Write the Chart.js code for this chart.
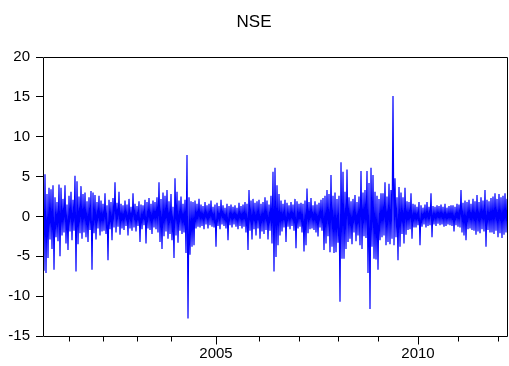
<!DOCTYPE html>
<html><head><meta charset="utf-8">
<script src="https://cdn.jsdelivr.net/npm/chart.js@4.4.0/dist/chart.umd.min.js"></script>
<style>html,body{margin:0;padding:0;background:#fff;overflow:hidden}canvas{display:block}</style>
</head><body>
<canvas id="c" width="509" height="366"></canvas>
<script>
const chartTitle = "NSE";
const nseReturns = [
 6.4,-6.8,5.3,-7.1,2.8,-5.2,3.6,-2.9,3.4,-4.1,
 3.9,-6.7,2.4,-2.6,1.8,-3.1,4.0,-5.0,3.6,-2.4,
 2.2,-2.0,3.9,-3.4,1.5,-4.2,2.6,-1.9,3.1,-3.0,
 2.1,-1.8,5.1,-6.9,4.4,-3.5,2.5,-2.1,3.8,-2.8,
 2.8,-2.0,3.0,-2.6,1.9,-3.2,2.4,-1.7,3.2,-6.7,
 3.0,-2.1,2.7,-2.9,1.8,-1.5,2.6,-2.4,2.0,-1.9,
 1.6,-1.8,2.9,-2.2,1.4,-5.5,2.1,-1.6,1.8,-3.0,
 2.3,-1.4,4.3,-2.0,1.7,-1.3,3.1,-2.3,1.6,-1.5,
 1.4,-1.7,2.0,-1.2,1.5,-2.4,2.2,-1.5,1.2,-1.8,
 2.9,-1.4,1.6,-1.9,1.3,-1.2,1.9,-3.2,1.5,-1.6,
 1.4,-1.1,2.1,-3.4,1.8,-1.5,2.3,-1.7,1.6,-2.2,
 2.0,-1.4,1.8,-1.6,2.4,-2.0,4.3,-3.2,2.2,-4.1,
 3.0,-2.5,2.6,-1.9,3.3,-2.8,1.9,-2.2,2.8,-3.0,
 1.2,-5.2,4.8,-2.4,3.1,-3.3,2.0,-1.8,2.5,-2.2,
 1.6,-2.0,2.1,-4.6,7.7,-12.8,2.4,-4.8,1.9,-3.8,
 1.8,-3.6,2.0,-1.5,1.6,-1.3,2.2,-1.4,1.5,-1.2,
 1.3,-1.6,1.8,-1.0,1.4,-1.5,1.6,-1.1,2.0,-1.3,
 1.2,-1.4,1.5,-3.8,1.7,-1.2,1.3,-1.6,2.1,-1.0,
 1.4,-1.2,1.1,-1.5,1.6,-3.0,1.3,-1.1,1.5,-1.4,
 1.2,-1.0,1.4,-1.3,1.1,-1.6,1.7,-1.2,1.3,-1.5,
 1.5,-1.3,1.8,-2.0,1.6,-4.2,3.3,-1.8,2.0,-2.9,
 2.2,-1.6,1.7,-2.4,1.9,-1.5,2.1,-2.8,1.6,-1.9,
 1.8,-2.2,2.4,-1.7,2.0,-2.9,1.5,-1.8,2.6,-3.4,
 5.6,-6.9,6.1,-5.1,3.9,-3.6,2.8,-2.4,2.0,-1.9,
 1.6,-1.4,2.1,-3.2,1.7,-1.3,1.4,-1.6,1.8,-1.2,
 1.5,-1.8,2.2,-4.0,1.9,-1.5,1.6,-1.3,1.7,-2.0,
 1.6,-4.4,2.0,-3.6,3.5,-2.1,1.8,-1.6,2.3,-1.5,
 1.4,-1.7,1.9,-2.0,1.5,-2.5,1.7,-1.4,2.1,-1.8,
 2.3,-4.2,2.6,-3.4,3.3,-2.5,2.8,-4.5,5.2,-3.8,
 2.6,-4.6,3.0,-4.5,2.2,-3.3,2.6,-10.7,6.8,-5.3,
 5.6,-5.3,3.1,-4.1,5.9,-3.2,2.4,-2.8,1.9,-3.5,
 2.2,-2.0,2.7,-3.1,1.8,-2.4,2.5,-3.6,5.7,-4.1,
 3.0,-2.5,3.3,-2.7,5.7,-7.1,4.2,-11.6,6.1,-3.8,
 5.2,-5.3,3.1,-5.4,2.6,-6.7,2.2,-3.0,2.9,-2.6,
 2.9,-2.4,4.3,-3.6,2.5,-3.2,4.1,-3.5,3.3,-2.8,
 15.1,-3.6,4.8,-2.6,2.4,-5.5,3.7,-3.8,3.0,-2.2,
 2.4,-3.4,3.6,-2.3,1.9,-1.7,1.8,-1.6,2.9,-2.8,
 1.6,-1.4,1.5,-1.4,1.2,-1.1,1.8,-3.6,1.4,-1.3,
 1.1,-1.0,1.5,-1.4,1.8,-1.2,1.2,-1.1,2.9,-2.6,
 1.3,-1.0,1.2,-1.2,1.4,-0.9,1.3,-1.1,1.5,-1.0,
 1.2,-1.3,1.6,-1.2,1.1,-1.0,1.3,-1.1,1.4,-1.2,
 1.4,-1.9,1.2,-1.1,1.6,-1.3,1.5,-1.4,3.3,-2.0,
 1.7,-2.4,2.0,-3.0,1.8,-1.6,2.1,-1.5,1.6,-1.7,
 2.2,-1.8,1.9,-2.3,2.7,-1.9,1.8,-2.1,2.4,-1.6,
 2.0,-1.9,3.3,-3.8,2.1,-1.7,1.9,-2.0,2.3,-2.0,
 2.5,-2.2,2.9,-1.8,2.2,-2.6,2.8,-2.1,2.4,-2.7,
 2.6,-2.3,2.9,-2.0,2.2,-2.5
];
const yTickValues = [-15,-10,-5,0,5,10,15,20];
// observation index at which each year's tick falls
const xTickObs = [26,60,94,128,173,216,256,295,335,375,415,455];
const xTickLabels = ["","","","","2005","","","","","2010","",""];

const points = nseReturns.map((v,i)=>({x:i,y:v}));

const framePlugin = {
  id:'frame',
  afterDatasetsDraw(chart){
    const {ctx, chartArea:a, scales:{x}} = chart;
    ctx.save();
    ctx.strokeStyle='#000'; ctx.lineWidth=1;
    const L=Math.round(a.left)+0.5, T=Math.round(a.top)+0.5, R=Math.round(a.right)-0.5, B=Math.round(a.bottom)+0.5;
    ctx.beginPath();
    ctx.moveTo(L,T);ctx.lineTo(R,T);ctx.lineTo(R,B);ctx.lineTo(L,B);ctx.closePath();
    ctx.stroke();
    xTickObs.forEach((v,i)=>{
      const px=Math.round(x.getPixelForValue(v))+0.5;
      const len = xTickLabels[i] ? 8 : 5;
      ctx.beginPath(); ctx.moveTo(px,B); ctx.lineTo(px,B+len); ctx.stroke();
    });
    ctx.restore();
  }
};

const font = {family:"'Liberation Sans', Arial, sans-serif", size:15};
new Chart(document.getElementById('c'), {
  type:'line',
  data:{datasets:[{data:points, borderColor:'#0000ff', borderWidth:1.2, pointRadius:0, tension:0, fill:false}]},
  options:{
    responsive:false, animation:false, devicePixelRatio:1,
    layout:{padding:{top:0,right:1,bottom:0,left:0}},
    plugins:{
      legend:{display:false}, tooltip:{enabled:false},
      title:{display:true, text:chartTitle, color:'#000',
        font:{family:"'Liberation Sans', Arial, sans-serif", size:17, weight:'normal'},
        padding:{top:12,bottom:24.6}}
    },
    scales:{
      x:{type:'linear', min:0, max:nseReturns.length-1, offset:false,
        afterFit:s=>{s.height=30;},
        afterBuildTicks:s=>{s.ticks = xTickObs.map(v=>({value:v}));},
        grid:{drawOnChartArea:false, color:'rgba(0,0,0,0)', tickLength:5},
        border:{display:false},
        ticks:{autoSkip:false, maxRotation:0, padding:4, color:'#000', font,
          callback:(v)=>{const k=xTickObs.indexOf(v); return k>=0?xTickLabels[k]:'';}}
      },
      y:{min:-15, max:20,
        afterFit:s=>{s.width=43;},
        afterBuildTicks:s=>{s.ticks = yTickValues.map(v=>({value:v}));},
        grid:{drawOnChartArea:false, color:'#000', tickLength:7},
        border:{display:false},
        ticks:{padding:6, color:'#000', font, callback:v=>String(v)}
      }
    }
  },
  plugins:[framePlugin]
});
</script>
</body></html>
